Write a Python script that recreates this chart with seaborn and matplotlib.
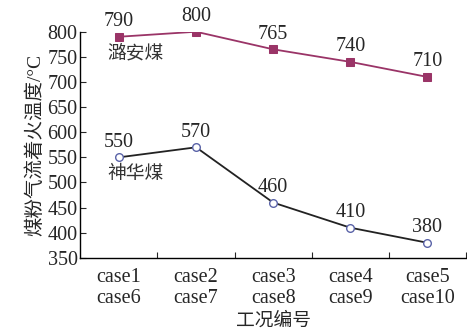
import numpy as np
import matplotlib
matplotlib.use('Agg')
import matplotlib.pyplot as plt
import pandas as pd
import seaborn as sns

# data
cases = ['case1\ncase6', 'case2\ncase7', 'case3\ncase8', 'case4\ncase9', 'case5\ncase10']
luan = [790, 800, 765, 740, 710]
shenhua = [550, 570, 460, 410, 380]
series_names = ['潞安煤', '神华煤']

sns.set_style('ticks')
plt.rcParams['font.family'] = ['Liberation Serif', 'Noto Sans CJK SC']
plt.rcParams['axes.unicode_minus'] = False

df = pd.DataFrame({
    'pos': list(range(len(cases))) * 2,
    'temp': luan + shenhua,
    'coal': [series_names[0]] * len(cases) + [series_names[1]] * len(cases),
})

fig, ax = plt.subplots(figsize=(4.67, 3.34), dpi=100)

sns.lineplot(data=df[df.coal == series_names[0]], x='pos', y='temp', ax=ax,
             color='#9a3467', marker='s', markersize=6, markeredgecolor='#9a3467',
             linewidth=1.3, legend=False)
sns.lineplot(data=df[df.coal == series_names[1]], x='pos', y='temp', ax=ax,
             color='#222222', marker='o', markersize=5.5, markerfacecolor='white',
             markeredgecolor='#5a63a8', markeredgewidth=1.0,
             linewidth=1.3, legend=False)

fs = 14.5

# value labels
for i, v in enumerate(luan):
    ax.annotate(str(v), (i, v), xytext=(0, 4), textcoords='offset points',
                ha='center', va='bottom', fontsize=fs)
for i, v in enumerate(shenhua):
    ax.annotate(str(v), (i, v), xytext=(0, 4), textcoords='offset points',
                ha='center', va='bottom', fontsize=fs)

# series names under first point
ax.annotate(series_names[0], (0, luan[0]), xytext=(12, -6), textcoords='offset points',
            ha='center', va='top', fontsize=13.5, color='#333333')
ax.annotate(series_names[1], (0, shenhua[0]), xytext=(12, -6), textcoords='offset points',
            ha='center', va='top', fontsize=13.5, color='#333333')

ax.set_xlim(-0.5, len(cases) - 0.5)
ax.set_ylim(350, 800)
ax.set_yticks(np.arange(350, 801, 50))
ax.set_xticks(range(len(cases)))
ax.set_xticklabels(cases)
ax.set_xticks(np.arange(0.5, len(cases), 1), minor=True)
ax.tick_params(axis='x', which='major', length=0, labelsize=fs, pad=7)
ax.tick_params(axis='x', which='minor', direction='in', length=4, width=0.8)
ax.tick_params(axis='y', direction='in', length=4, width=0.8, labelsize=fs, pad=2)
for lab in ax.get_xticklabels():
    lab.set_linespacing(1.15)

ax.set_xlabel('工况编号', fontsize=13.5, labelpad=3)
ax.set_ylabel('煤粉气流着火温度/°C', fontsize=14, labelpad=2)

sns.despine(ax=ax)
for s in ['left', 'bottom']:
    ax.spines[s].set_linewidth(1.0)
    ax.spines[s].set_color('black')

plt.subplots_adjust(left=0.172, right=0.998, top=0.905, bottom=0.228)
fig.savefig('out.png', dpi=100)
